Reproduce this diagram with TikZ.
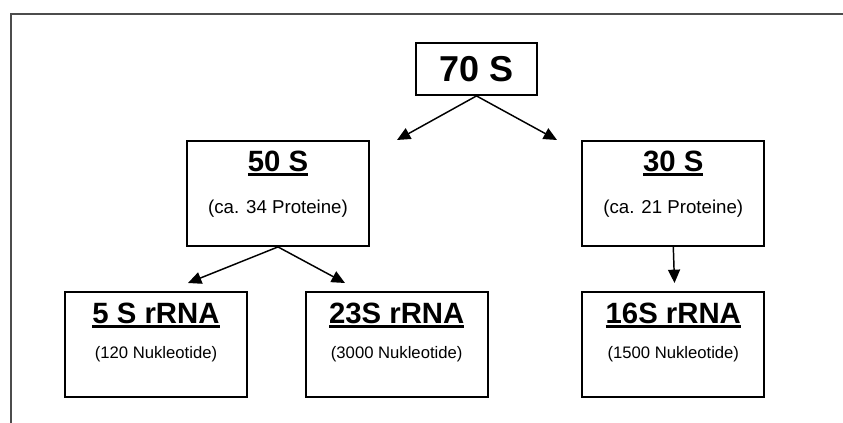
\documentclass[tikz,border=0pt]{standalone}
\usepackage{fontspec}
\setmainfont{Liberation Sans}
\usetikzlibrary{arrows.meta,calc}

% thick underline below the headings
\newcommand{\thickul}[1]{\vtop{\hbox{#1}\kern1pt\hrule height 2.2pt}}

\tikzset{
    unit/.style={draw, line width=1.4pt, inner sep=0pt,
        minimum width=136.5pt, minimum height=78.75pt},
    whole/.style={draw, line width=1.4pt, inner sep=0pt,
        minimum width=90.75pt, minimum height=39pt, font=\bfseries\fontsize{27}{30}\selectfont},
    head/.style={anchor=base, font=\bfseries\fontsize{22}{24}\selectfont},
    prot/.style={anchor=base, font=\fontsize{14}{16}\selectfont},
    nucl/.style={anchor=base, font=\fontsize{12.5}{14}\selectfont},
    split/.style={line width=1.1pt, -{Triangle[length=10pt,width=9pt]}},
}

\begin{document}
\begin{tikzpicture}[x=0.75pt, y=-0.75pt]
    \useasboundingbox (0,0) rectangle (843,423);

    % frame
    \draw[line width=1.5pt, black!70] (11,423) -- (11,14) -- (843,14);

    % define nodes
    \node[whole] (s70) at (476.5,69) {70 S};

    \node[unit] (s50) at (278,193.5) {};
    \node[unit] (s30) at (673.3,193.5) {};

    \node[unit] (r5)  at (156,344.2) {};
    \node[unit] (r23) at (396.7,344.2) {};
    \node[unit] (r16) at (673.3,344.2) {};

    % labels
    \node[head] at ($(s50.north)+(0,31)$) {\thickul{50 S}};
    \node[prot] at ($(s50.north)+(0,73)$) {(ca. 34 Proteine)};
    \node[head] at ($(s30.north)+(0,31)$) {\thickul{30 S}};
    \node[prot] at ($(s30.north)+(0,73)$) {(ca. 21 Proteine)};

    \node[head] at ($(r5.north)+(0,33)$) {\thickul{5 S rRNA}};
    \node[nucl] at ($(r5.north)+(0,68)$) {(120 Nukleotide)};
    \node[head] at ($(r23.north)+(0,33)$) {\thickul{23S rRNA}};
    \node[nucl] at ($(r23.north)+(0,68)$) {(3000 Nukleotide)};
    \node[head] at ($(r16.north)+(0,33)$) {\thickul{16S rRNA}};
    \node[nucl] at ($(r16.north)+(0,68)$) {(1500 Nukleotide)};

    % arrow ends
    \coordinate (t50) at (397,140);
    \coordinate (t30) at (557,140);
    \coordinate (t5)  at (188,283);
    \coordinate (t23) at (345,283);
    \coordinate (t16) at (674.5,283);

    % connect the nodes
    \draw[split] (s70.south) -- (t50);
    \draw[split] (s70.south) -- (t30);
    \draw[split] (s50.south) -- (t5);
    \draw[split] (s50.south) -- (t23);
    \draw[split] (s30.south) -- (t16);

\end{tikzpicture}
\end{document}
